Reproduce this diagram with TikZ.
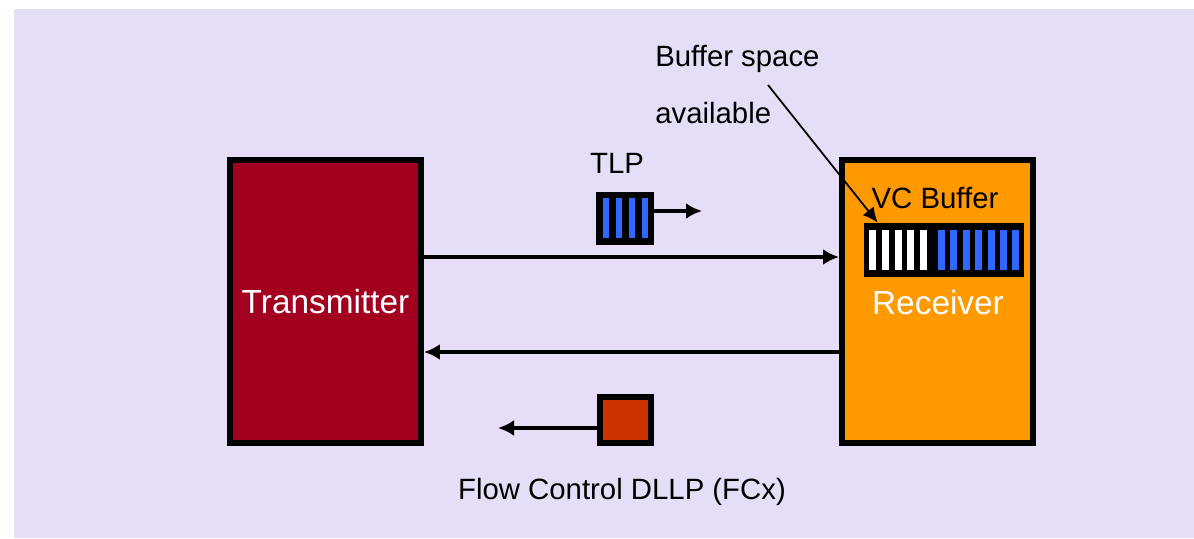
\documentclass[tikz,border=0pt]{standalone}
\usepackage{fontspec}
\setmainfont{Liberation Sans}
\usetikzlibrary{arrows.meta,positioning}

\definecolor{bglav}{HTML}{E6DEF7}
\definecolor{txred}{HTML}{A30020}
\definecolor{rxorange}{HTML}{FF9900}
\definecolor{barblue}{HTML}{3068FF}
\definecolor{dllpred}{HTML}{CC3300}

\begin{document}
\begin{tikzpicture}[
  x=0.02cm, y=0.02cm,
  font=\fontsize{16.7}{20}\selectfont,
  unit/.style={draw, line width=3.4pt, inner sep=0pt, minimum width=3.82cm, minimum height=5.66cm, text=white, font=\fontsize{19}{22}\selectfont},
  pkt/.style={inner sep=0pt, fill=black},
  flow/.style={-{Latex[length=3.2mm, width=3.2mm]}, line width=2pt},
  pointer/.style={-{Latex[length=3mm, width=2.8mm]}, line width=1pt},
  label/.style={inner sep=0pt, align=left}
]
\useasboundingbox (0,0) rectangle (1194,538);
\fill[bglav] (14,0) rectangle (1194,529);

\node[unit, fill=txred] (tx) at (325.5,236.5) {Transmitter};
\node[unit, fill=rxorange] (rx) at (937.5,236.5) {};
\node[text=white, font=\fontsize{19}{22}\selectfont] (rxlabel) at (938,235) {Receiver};

\node[pkt, minimum width=1.16cm, minimum height=1.06cm] (tlp) at (625,319.5) {};
\node[label] (tlplabel) at (617,375) {TLP};
\coordinate (tlpend) at (702,327);

\node[pkt, minimum width=3.2cm, minimum height=1.08cm] (vcbuf) at (944,288) {};
\node[label] (vclabel) at (935,340) {VC Buffer};

\node[draw, line width=3.4pt, fill=dllpred, inner sep=0pt, minimum width=1.02cm, minimum height=0.92cm] (dllp) at (625.5,118) {};
\coordinate (dllpend) at (498,110);
\node[label] (fclabel) at (622,46) {Flow Control DLLP (FCx)};

\node[label, anchor=west, font=\fontsize{16.7}{32}\selectfont] (space) at (655,453.5) {Buffer space\\available};
\coordinate (ptr) at (768,453);

\foreach \i in {0,...,3}
  \fill[barblue] ({603+13*\i},300) rectangle +(6,40);
\foreach \i in {0,...,4}
  \fill[white] ({869+12.8*\i},268) rectangle +(7,40);
\foreach \i in {0,...,6}
  \fill[barblue] ({938+12.4*\i},268) rectangle +(7,40);

\draw[flow] ([yshift=0.89cm]tx.east) -- ([yshift=0.89cm]rx.west);
\draw[flow] ([yshift=-1.01cm]rx.west) -- ([yshift=-1.01cm]tx.east);
\draw[flow] (tlp.east |- tlpend) -- (tlpend);
\draw[flow] (dllp.west |- dllpend) -- (dllpend);
\draw[pointer] (ptr) -- ([xshift=0.28cm]vcbuf.north west);
\end{tikzpicture}
\end{document}
